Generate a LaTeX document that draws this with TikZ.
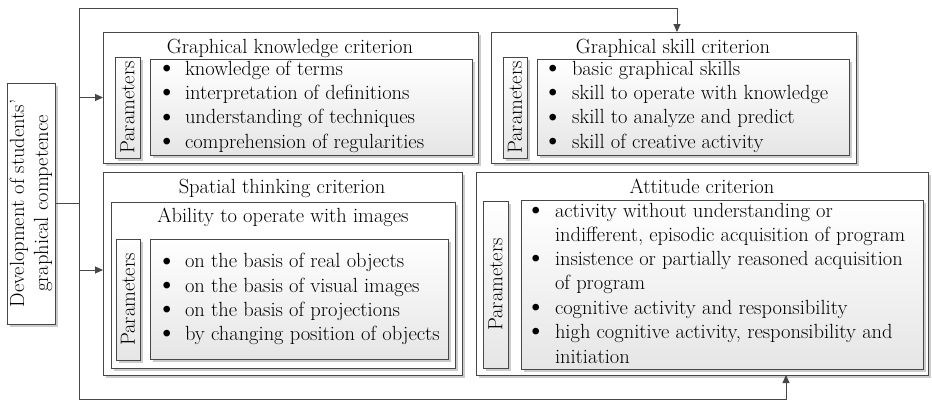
\documentclass[tikz,border=0pt]{standalone}
\usetikzlibrary{shadows,arrows.meta}

% rectangle node from its top-left and bottom-right corners
\newcommand\boxat[6]{\node[#6, minimum width={#4-#2}, minimum height={#5-#3}] (#1) at (#2,#3) {};}
% list bullet
\newcommand\bul[1]{\makebox[#1][l]{\smash{\raisebox{-1.2pt}{\scalebox{1.45}{\textbullet}}}}}

\begin{document}
\begin{tikzpicture}[x=1pt,y=-1pt,
  every node/.style={font=\fontsize{20.5}{24}\selectfont, inner sep=0pt, outer sep=0pt},
  frame/.style={draw=black!72, line width=0.9pt, fill=white, anchor=north west,
    drop shadow={shadow xshift=3pt, shadow yshift=-3pt, fill=black, opacity=0.2}},
  listbox/.style={frame, top color=white, bottom color=black!10},
  ttl/.style={anchor=base},
  item/.style={anchor=base west},
  vtext/.style={rotate=90, align=center},
  link/.style={draw=black!72, line width=0.9pt},
  arrow/.style={link, -{Triangle[length=8pt,width=7pt]}}]

\useasboundingbox (0,0) rectangle (932,402);

% main concept
\boxat{dev}{7}{83}{55}{324}{frame}
\node[vtext] (devt) at (dev.center) {Development of students'\\graphical competence};

% graphical knowledge criterion
\boxat{kn}{103}{32}{478}{163}{frame}
\node[ttl] (knt) at (290,53) {Graphical knowledge criterion};
\boxat{knp}{115}{57}{140}{158}{listbox}
\node[vtext] (knpt) at (knp.center) {Parameters};
\boxat{knl}{150}{59}{472}{155}{listbox}
\foreach \t [count=\i] in {knowledge of terms, interpretation of definitions,
    understanding of techniques, comprehension of regularities}
  \node[item] (knb\i) at (156,51+24.3*\i) {\bul{29pt}\t};

% graphical skill criterion
\boxat{sk}{491}{32}{856}{163}{frame}
\node[ttl] (skt) at (673,53) {Graphical skill criterion};
\boxat{skp}{503}{57}{527}{158}{listbox}
\node[vtext] (skpt) at (skp.center) {Parameters};
\boxat{skl}{537}{59}{849}{155}{listbox}
\foreach \t [count=\i] in {basic graphical skills, skill to operate with knowledge,
    skill to analyze and predict, skill of creative activity}
  \node[item] (skb\i) at (542,51+24.3*\i) {\bul{30pt}\t};

% spatial thinking criterion
\boxat{sp}{103}{172}{462}{375}{frame}
\node[ttl] (spt) at (282,193) {Spatial thinking criterion};
\boxat{spi}{111}{202}{455}{368}{frame}
\node[ttl] (spit) at (283,222) {Ability to operate with images};
\boxat{spp}{116}{239}{140}{360}{listbox}
\node[vtext] (sppt) at (spp.center) {Parameters};
\boxat{spl}{150}{239}{448}{359}{listbox}
\foreach \t [count=\i] in {on the basis of real objects, on the basis of visual images,
    on the basis of projections, by changing position of objects}
  \node[item] (spb\i) at (156,243.5+24.3*\i) {\bul{29pt}\t};

% attitude criterion
\boxat{at}{476}{172}{928}{375}{frame}
\node[ttl] (att) at (702,193) {Attitude criterion};
\boxat{atp}{483}{201}{508}{368}{listbox}
\node[vtext] (atpt) at (atp.center) {Parameters};
\boxat{atl}{521}{200}{923}{369}{listbox}
\node[item] (atb1) at (525,217) {\bul{30pt}activity without understanding or};
\node[item] (atb2) at (555,241) {indifferent, episodic acquisition of program};
\node[item] (atb3) at (525,265) {\bul{30pt}insistence or partially reasoned acquisition};
\node[item] (atb4) at (555,289) {of program};
\node[item] (atb5) at (525,314) {\bul{30pt}cognitive activity and responsibility};
\node[item] (atb6) at (525,338) {\bul{30pt}high cognitive activity, responsibility and};
\node[item] (atb7) at (555,363) {initiation};

% connectors
\coordinate (bustop) at (79,8);
\coordinate (busbot) at (79,399);
\coordinate (turnsk) at (677,8);
\coordinate (turnat) at (786,399);
\coordinate (tosp) at (79,270);
\draw[link] (bustop) -- (busbot);
\draw[link] (dev.east) -- (dev.east -| bustop);
\draw[arrow] (bustop |- kn.west) -- (kn.west);
\draw[arrow] (tosp) -- (tosp -| sp.west);
\draw[arrow] (bustop) -- (turnsk) -- (turnsk |- sk.north);
\draw[arrow] (busbot) -- (turnat) -- (turnat |- at.south);
\end{tikzpicture}
\end{document}
